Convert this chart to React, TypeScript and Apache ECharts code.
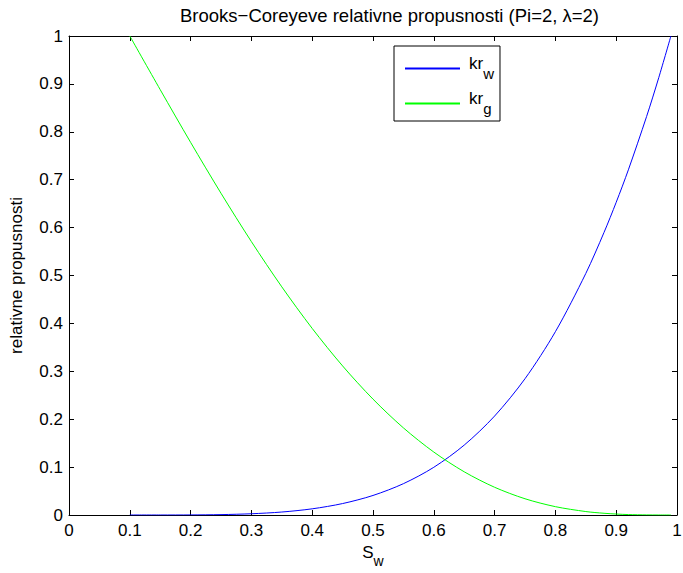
import React, { useEffect, useRef } from "react";
import * as echarts from "echarts";

const sw = [0.1, 0.15, 0.2, 0.25, 0.3, 0.35, 0.4, 0.45, 0.5, 0.55, 0.6, 0.65, 0.7, 0.75, 0.8, 0.85, 0.88, 0.9, 0.92, 0.95, 0.97, 0.99];
const krw = [0, 0.00001, 0.00016, 0.0008, 0.0026, 0.0062, 0.0129, 0.0239, 0.0408, 0.0654, 0.0996, 0.1459, 0.2066, 0.2845, 0.3827, 0.5043, 0.59, 0.6528, 0.7206, 0.832, 0.9131, 1];
const krg = [1, 0.888, 0.778, 0.6717, 0.5707, 0.4763, 0.3895, 0.3112, 0.2419, 0.1819, 0.1314, 0.0902, 0.0579, 0.0339, 0.0174, 0.0072, 0.0036, 0.002, 0.0009, 0.0002, 0.00005, 0];

const FONT = "Liberation Sans, Arial, Helvetica, sans-serif";

export default function App() {
  const ref = useRef<HTMLDivElement>(null);
  useEffect(() => {
    if (!ref.current) return;
    const chart = echarts.init(ref.current, undefined, { renderer: "svg" });
    const fmt = (v: number) => String(Math.round(v * 10) / 10);
    const axisCommon = {
      min: 0,
      max: 1,
      interval: 0.1,
      axisLine: { show: true, onZero: false, lineStyle: { color: "#000", width: 1 } },
      axisTick: { show: true, inside: true, length: 5, lineStyle: { color: "#000" } },
      splitLine: { show: false },
    };
    chart.setOption({
      animation: false,
      backgroundColor: "#fff",
      textStyle: { fontFamily: FONT },
      title: {
        text: "Brooks\u2212Coreyeve relativne propusnosti (Pi=2, \u03bb=2)",
        left: 175,
        top: 1,
        textStyle: { fontFamily: FONT, fontSize: 18.5, fontWeight: "normal", color: "#000" },
      },
      grid: { left: 69, right: 6, top: 36, bottom: 58, containLabel: false, outerBoundsMode: "none" },
      legend: {
        orient: "vertical",
        left: 394,
        top: 46,
        padding: [9, 6, 5, 11],
        itemGap: 9,
        itemWidth: 55,
        itemHeight: 2,
        icon: "rect",
        borderColor: "#000",
        borderWidth: 1,
        backgroundColor: "#fff",
        data: ["krw", "krg"],
        formatter: (name: string) => (name === "krw" ? "{a|kr}{s|w}" : "{a|kr}{s|g}"),
        textStyle: {
          color: "#000",
          fontFamily: FONT,
          padding: [0, 22, 0, 4],
          rich: {
            a: { fontSize: 17, fontFamily: FONT, color: "#000", height: 25, verticalAlign: "top" },
            s: { fontSize: 15, fontFamily: FONT, color: "#000", height: 25, verticalAlign: "bottom", padding: [10, 0, 0, 0] },
          },
        },
      },
      xAxis: [
        {
          ...axisCommon,
          type: "value",
          position: "bottom",
          name: "{a|S}{s|w}",
          nameLocation: "middle",
          nameGap: 25,
          nameTextStyle: {
            rich: {
              a: { fontSize: 17, fontFamily: FONT, color: "#000", height: 24, verticalAlign: "top" },
              s: { fontSize: 14, fontFamily: FONT, color: "#000", height: 24, verticalAlign: "bottom", padding: [9, 0, 0, 0] },
            },
          },
          axisLabel: { color: "#000", fontSize: 17, fontFamily: FONT, margin: 7, formatter: fmt },
        },
        {
          ...axisCommon,
          type: "value",
          position: "top",
          axisLabel: { show: false },
        },
      ],
      yAxis: [
        {
          ...axisCommon,
          type: "value",
          position: "left",
          name: "relativne propusnosti",
          nameLocation: "middle",
          nameGap: 44,
          nameTextStyle: { fontSize: 17, fontFamily: FONT, color: "#000" },
          axisLabel: { color: "#000", fontSize: 17, fontFamily: FONT, margin: 6, formatter: fmt },
        },
        {
          ...axisCommon,
          type: "value",
          position: "right",
          axisLabel: { show: false },
        },
      ],
      series: [
        {
          name: "krw",
          type: "line",
          data: sw.map((x, i) => [x, krw[i]]),
          smooth: 0.3,
          showSymbol: false,
          symbol: "none",
          lineStyle: { color: "#0000ff", width: 1 },
          itemStyle: { color: "#0000ff" },
        },
        {
          name: "krg",
          type: "line",
          data: sw.map((x, i) => [x, krg[i]]),
          smooth: 0.3,
          showSymbol: false,
          symbol: "none",
          lineStyle: { color: "#00ff00", width: 1 },
          itemStyle: { color: "#00ff00" },
        },
      ],
    });
    return () => chart.dispose();
  }, []);
  return <div ref={ref} style={{ width: 683, height: 573, position: "absolute", left: 0, top: 0 }} />;
}
